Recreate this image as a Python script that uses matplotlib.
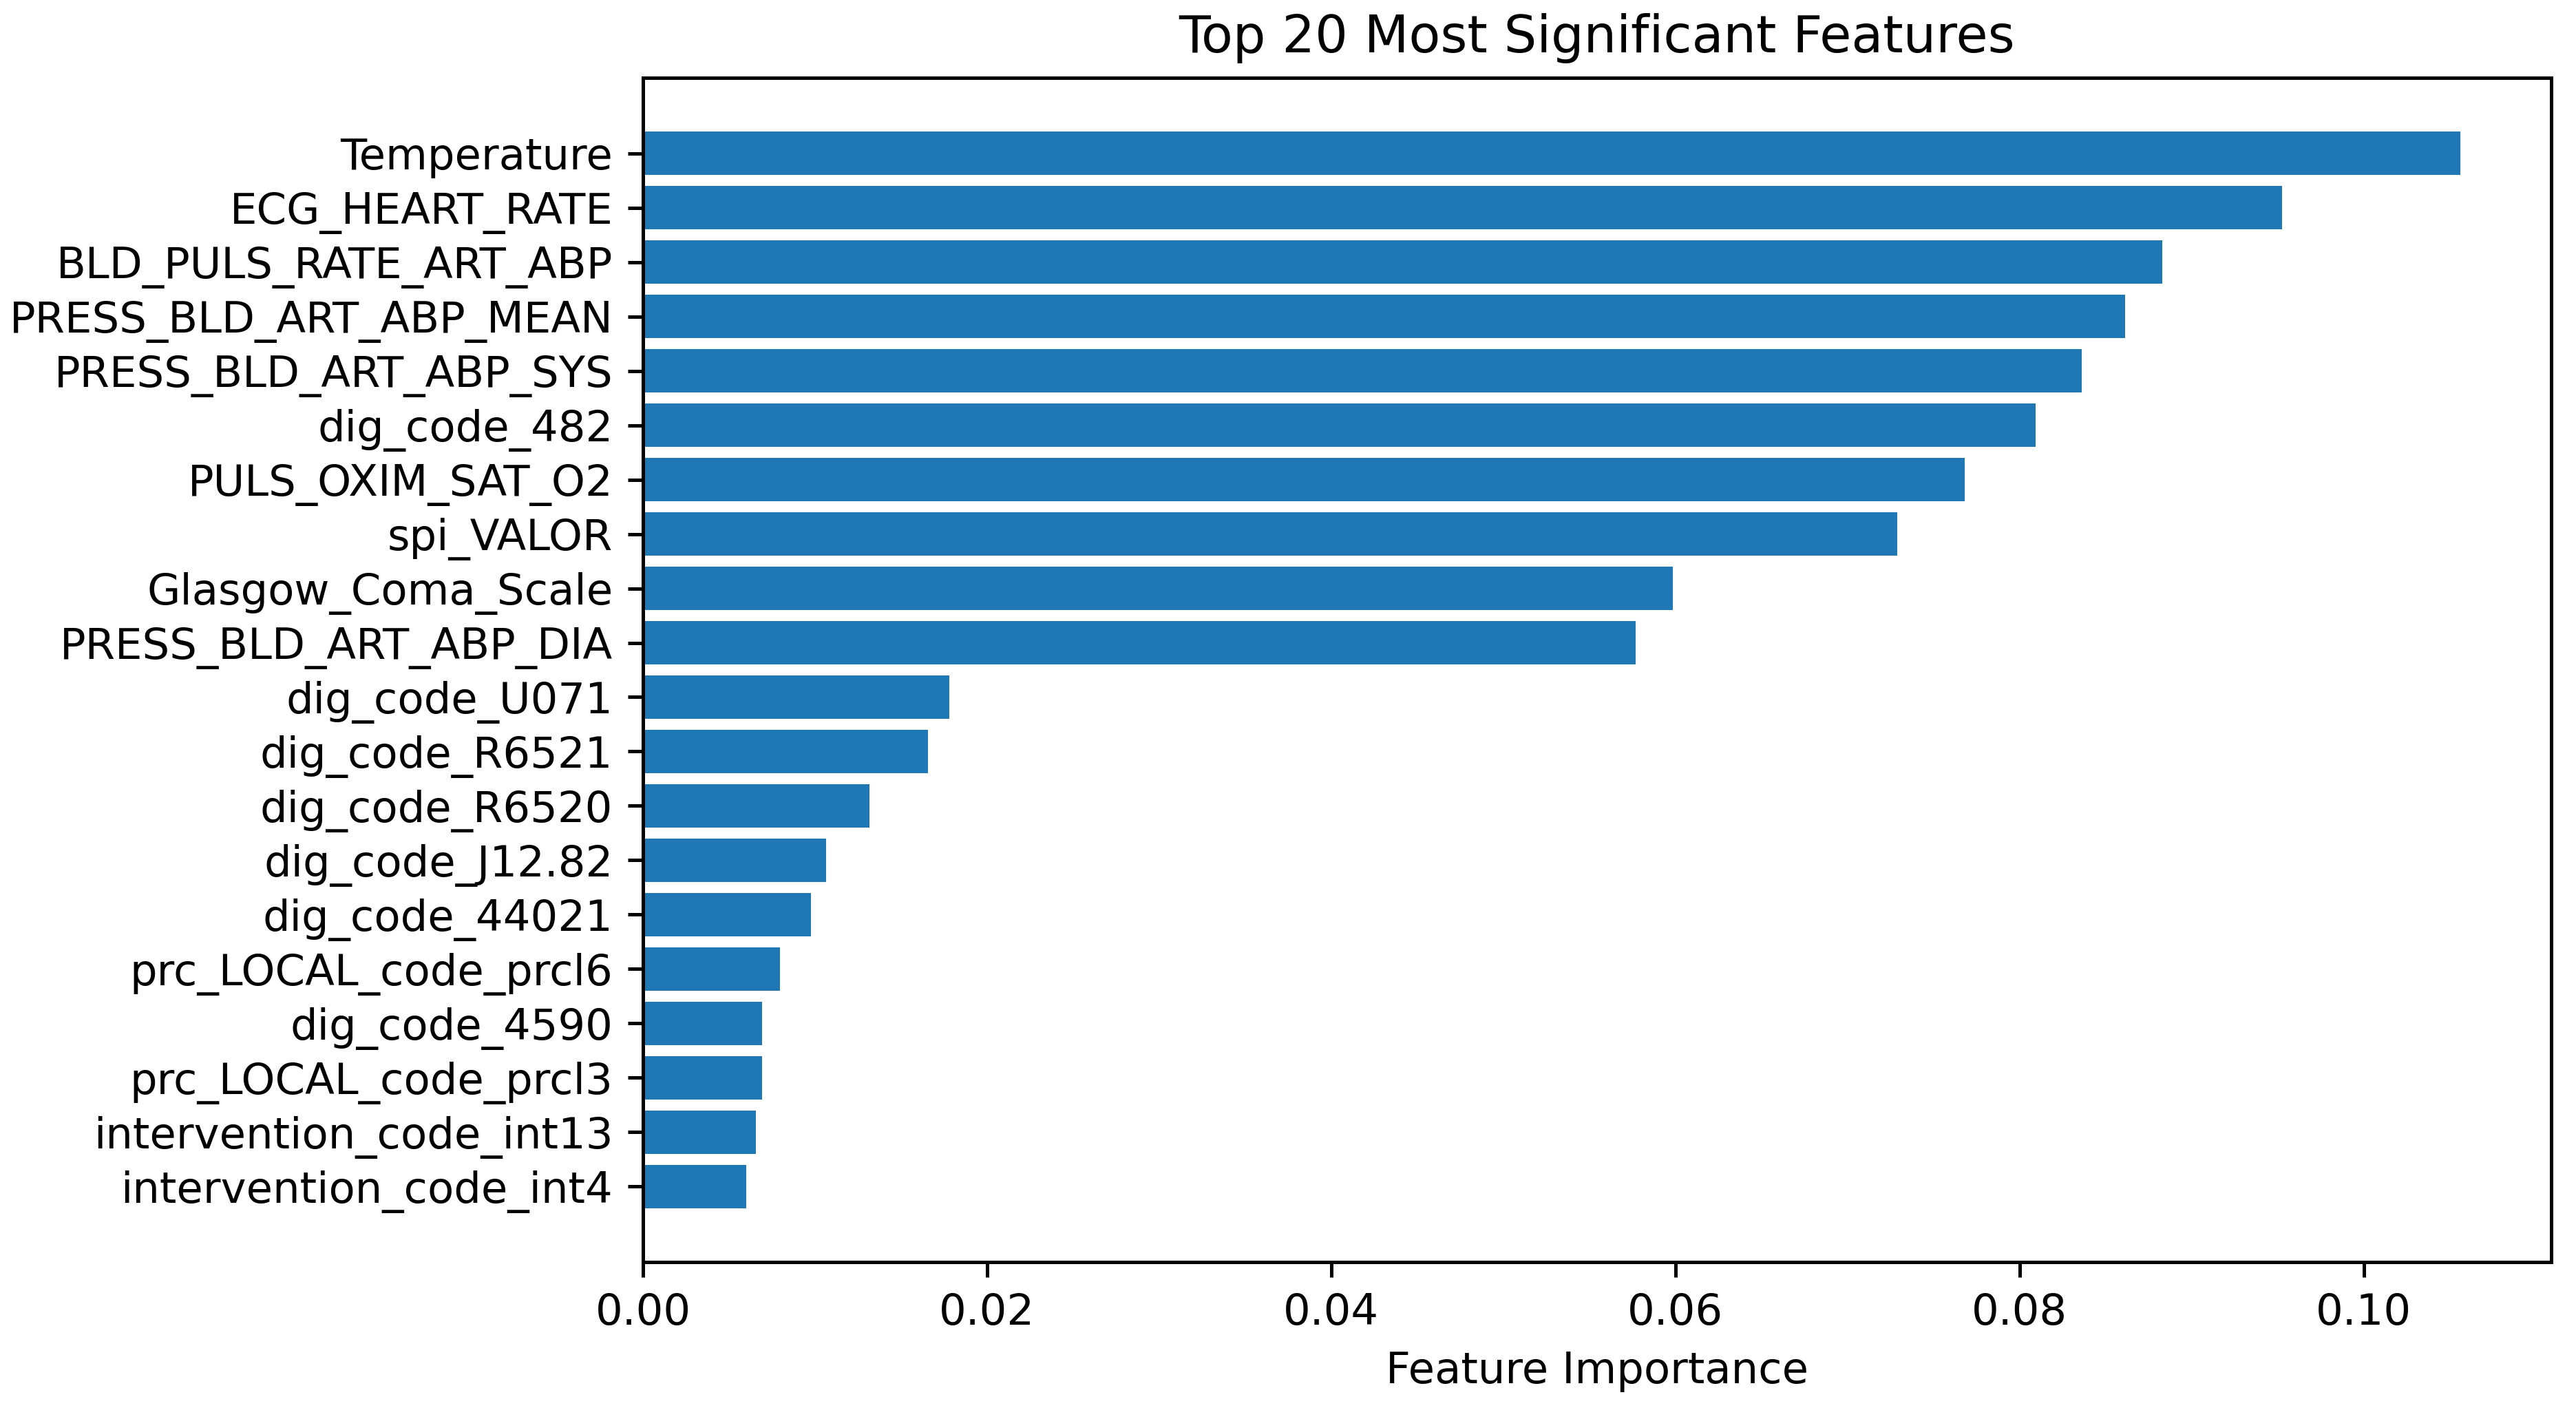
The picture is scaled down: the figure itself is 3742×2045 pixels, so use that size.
import numpy as np
import matplotlib
matplotlib.use('Agg')
import matplotlib.pyplot as plt

# feature importances, most important first
features = ['Temperature', 'ECG_HEART_RATE', 'BLD_PULS_RATE_ART_ABP',
            'PRESS_BLD_ART_ABP_MEAN', 'PRESS_BLD_ART_ABP_SYS', 'dig_code_482',
            'PULS_OXIM_SAT_O2', 'spi_VALOR', 'Glasgow_Coma_Scale',
            'PRESS_BLD_ART_ABP_DIA', 'dig_code_U071', 'dig_code_R6521',
            'dig_code_R6520', 'dig_code_J12.82', 'dig_code_44021',
            'prc_LOCAL_code_prcl6', 'dig_code_4590', 'prc_LOCAL_code_prcl3',
            'intervention_code_int13', 'intervention_code_int4']
importance = [0.10562, 0.09525, 0.08829, 0.08613, 0.08362, 0.08095,
              0.07682, 0.07288, 0.05984, 0.05770, 0.01782, 0.01656,
              0.01318, 0.01066, 0.00978, 0.00798, 0.00692, 0.00692,
              0.00655, 0.00602]

dpi = 450
fig = plt.figure(figsize=(3742/dpi, 2045/dpi), dpi=dpi)
ax = fig.add_subplot(111)
fig.subplots_adjust(left=0.2496, right=0.9904, top=0.9447, bottom=0.1037)

# reversed so the largest bar sits on top
ax.barh(features[::-1], importance[::-1], color='#1f77b4')
ax.set_xlabel('Feature Importance')
ax.set_title('Top 20 Most Significant Features')

fig.savefig('out.png', dpi=dpi)
